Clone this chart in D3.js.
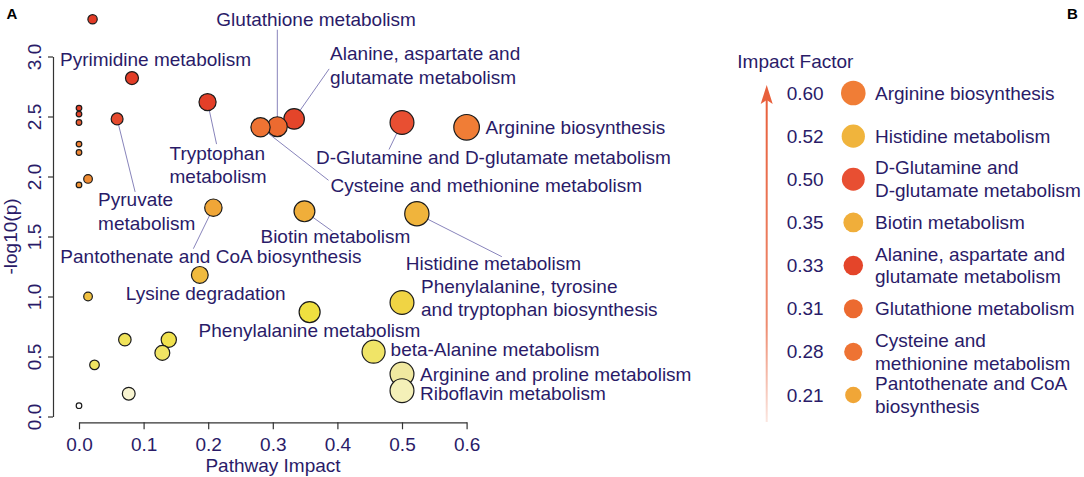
<!DOCTYPE html>
<html>
<head>
<meta charset="utf-8">
<script src="https://cdn.jsdelivr.net/npm/d3@7"></script>
<style>
  body { margin: 0; background: #fff; }
  svg { font-family: "Liberation Sans", Arial, sans-serif; }
  .axis text { fill: #2a1b68; font-size: 19px; }
  .axis path, .axis line { stroke: #333; stroke-width: 1.2; }
</style>
</head>
<body>
<div id="chart"></div>
<script>
// pathway names ('' = not labelled), impact (x) and -log10(p) (y)
var pathways = [
  '', 'Pyrimidine metabolism', 'Tryptophan metabolism', '', '',
  'Alanine, aspartate and glutamate metabolism', 'Pyruvate metabolism',
  'D-Glutamine and D-glutamate metabolism', '', 'Glutathione metabolism',
  'Cysteine and methionine metabolism', 'Arginine biosynthesis', '', '', '', '',
  'Pantothenate and CoA biosynthesis', 'Biotin metabolism', 'Histidine metabolism',
  'Lysine degradation', '', 'Phenylalanine, tyrosine and tryptophan biosynthesis',
  'Phenylalanine metabolism', '', '', 'beta-Alanine metabolism', '', '',
  'Arginine and proline metabolism', 'Riboflavin metabolism', '', ''
];
var impact = [
  0.021, 0.082, 0.199, 0.0, 0.0, 0.333, 0.059, 0.50, 0.0, 0.307, 0.281, 0.60,
  0.0, 0.0, 0.014, 0.0, 0.208, 0.349, 0.523, 0.187, 0.014, 0.50, 0.357,
  0.139, 0.071, 0.456, 0.129, 0.024, 0.50, 0.50, 0.077, 0.0
];
var logp = [
  3.31, 2.82, 2.62, 2.57, 2.52, 2.48, 2.48, 2.45, 2.45, 2.415, 2.41, 2.41,
  2.27, 2.20, 1.98, 1.93, 1.74, 1.71, 1.69, 1.18, 1.00, 0.95, 0.87,
  0.64, 0.64, 0.54, 0.53, 0.43, 0.354, 0.215, 0.19, 0.09
];
var xTicks = [0, 0.1, 0.2, 0.3, 0.4, 0.5, 0.6];
var yTicks = [0, 0.5, 1, 1.5, 2, 2.5, 3];

// panel B entries
var legendLabels = [
  'Arginine biosynthesis',
  'Histidine metabolism',
  'D-Glutamine and\nD-glutamate metabolism',
  'Biotin metabolism',
  'Alanine, aspartate and\nglutamate metabolism',
  'Glutathione metabolism',
  'Cysteine and\nmethionine metabolism',
  'Pantothenate and CoA\nbiosynthesis'
];

// label layout in panel A: text lines, text offset (dx,dy), leader end (lx,ly)
var labelLayout = {
  'Pyrimidine metabolism': { lines: ['Pyrimidine metabolism'], dx: -72, dy: -19 },
  'Tryptophan metabolism': { lines: ['Tryptophan', 'metabolism'], dx: -38, dy: 51, lx: 9, ly: 42 },
  'Alanine, aspartate and glutamate metabolism': { lines: ['Alanine, aspartate and', 'glutamate metabolism'], dx: 36, dy: -65, lx: 35, ly: -50 },
  'Pyruvate metabolism': { lines: ['Pyruvate', 'metabolism'], dx: -19, dy: 81, lx: 18, ly: 73 },
  'D-Glutamine and D-glutamate metabolism': { lines: ['D-Glutamine and D-glutamate metabolism'], dx: -86, dy: 35, lx: -13, ly: 27 },
  'Glutathione metabolism': { lines: ['Glutathione metabolism'], dx: -61, dy: -107, lx: 0, ly: -97 },
  'Cysteine and methionine metabolism': { lines: ['Cysteine and methionine metabolism'], dx: 70, dy: 58, lx: 68, ly: 53 },
  'Arginine biosynthesis': { lines: ['Arginine biosynthesis'], dx: 19, dy: 0 },
  'Pantothenate and CoA biosynthesis': { lines: ['Pantothenate and CoA biosynthesis'], dx: -153, dy: 49, lx: -20, ly: 41 },
  'Biotin metabolism': { lines: ['Biotin metabolism'], dx: -44, dy: 25, lx: 28, ly: 20 },
  'Histidine metabolism': { lines: ['Histidine metabolism'], dx: -11, dy: 50, lx: 85, ly: 43 },
  'Lysine degradation': { lines: ['Lysine degradation'], dx: -74, dy: 19 },
  'Phenylalanine, tyrosine and tryptophan biosynthesis': { lines: ['Phenylalanine, tyrosine', 'and tryptophan biosynthesis'], dx: 19, dy: -16 },
  'Phenylalanine metabolism': { lines: ['Phenylalanine metabolism'], dx: -111, dy: 18 },
  'beta-Alanine metabolism': { lines: ['beta-Alanine metabolism'], dx: 17, dy: -2 },
  'Arginine and proline metabolism': { lines: ['Arginine and proline metabolism'], dx: 18, dy: 0 },
  'Riboflavin metabolism': { lines: ['Riboflavin metabolism'], dx: 18, dy: 3 }
};

// heat colours by rank of p-value
var colorStops = [
  [0, '#e23b26'], [0.16, '#e4452a'], [0.23, '#e85032'], [0.29, '#ec6a30'],
  [0.36, '#f07e36'], [0.48, '#f09032'], [0.52, '#f0a838'], [0.58, '#f0b43c'],
  [0.645, '#f0c040'], [0.677, '#f0d444'], [0.71, '#f0e040'], [0.81, '#f0e468'],
  [0.87, '#f0e460'], [0.903, '#f0e8a0'], [0.935, '#f4f0b8'], [0.968, '#f8f4d0'],
  [1, '#ffffff']
];

var textColor = '#2a1b68';
var lineColor = '#8884bb';

var data = pathways.map(function(name, i) {
  return { name: name, impact: impact[i], logp: logp[i] };
});
var order = d3.range(data.length).sort(function(a, b) { return logp[b] - logp[a]; });
order.forEach(function(idx, rank) { data[idx].rank = rank; });

var color = d3.scaleLinear()
  .domain(colorStops.map(function(s) { return s[0]; }))
  .range(colorStops.map(function(s) { return s[1]; }));

var x = d3.scaleLinear().domain([0, 0.6]).range([79, 466.6]);
var y = d3.scaleLinear().domain([0, 3]).range([416.5, 56.5]);
var r = d3.scaleSqrt().domain([0, 0.6]).range([2.8, 12.8]);

var svg = d3.select('#chart')
  .append('svg')
  .attr('width', 1084)
  .attr('height', 477);

// panel letters
svg.append('text').attr('x', 6.5).attr('y', 19).text('A')
  .style('font-weight', 'bold').style('font-size', '15px');
svg.append('text').attr('x', 1067).attr('y', 19).text('B')
  .style('font-weight', 'bold').style('font-size', '15px');

// axes
var yAxis = svg.append('g')
  .attr('class', 'axis')
  .attr('transform', 'translate(53,0)')
  .call(d3.axisLeft(y).tickValues(yTicks).tickFormat(d3.format('.1f')).tickSize(5).tickSizeOuter(0));
yAxis.selectAll('text')
  .attr('x', 0).attr('dy', 0)
  .attr('text-anchor', 'middle')
  .attr('transform', 'translate(-12,0) rotate(-90)');

svg.append('g')
  .attr('class', 'axis')
  .attr('transform', 'translate(0,422.3)')
  .call(d3.axisBottom(x).tickValues(xTicks).tickFormat(d3.format('.1f')).tickSize(7).tickPadding(8).tickSizeOuter(0));

svg.append('text')
  .attr('x', 273).attr('y', 472)
  .attr('text-anchor', 'middle')
  .style('font-size', '19px').style('fill', textColor)
  .text('Pathway Impact');

svg.append('text')
  .attr('transform', 'translate(17,236.5) rotate(-90)')
  .attr('text-anchor', 'middle')
  .style('font-size', '19px').style('fill', textColor)
  .text('-log10(p)');

// leader lines under the points
var labelled = data.filter(function(d) { return labelLayout[d.name]; });

svg.selectAll('.leader')
  .data(labelled.filter(function(d) { return labelLayout[d.name].lx !== undefined; }))
  .enter()
  .append('line')
  .attr('class', 'leader')
  .attr('x1', function(d) { return x(d.impact); })
  .attr('y1', function(d) { return y(d.logp); })
  .attr('x2', function(d) { return x(d.impact) + labelLayout[d.name].lx; })
  .attr('y2', function(d) { return y(d.logp) + labelLayout[d.name].ly; })
  .style('stroke', lineColor)
  .style('stroke-width', 1);

// points, biggest first so small ones stay visible
svg.selectAll('.pt')
  .data(data.slice().sort(function(a, b) { return b.impact - a.impact; }))
  .enter()
  .append('circle')
  .attr('class', 'pt')
  .attr('cx', function(d) { return x(d.impact); })
  .attr('cy', function(d) { return y(d.logp); })
  .attr('r', function(d) { return r(d.impact); })
  .attr('fill', function(d) { return color(d.rank / (data.length - 1)); })
  .style('stroke', '#1b1b1b')
  .style('stroke-width', 1.2);

// labels
var lab = svg.selectAll('.lab')
  .data(labelled)
  .enter()
  .append('text')
  .attr('class', 'lab')
  .style('font-size', '19px')
  .style('fill', textColor);

lab.each(function(d) {
  var L = labelLayout[d.name];
  var t = d3.select(this);
  L.lines.forEach(function(line, i) {
    t.append('tspan')
      .attr('x', x(d.impact) + L.dx)
      .attr('y', y(d.logp) + L.dy + i * 23.4)
      .attr('dominant-baseline', 'central')
      .text(line);
  });
});

// panel B: impact factor legend
var ly = d3.scalePoint().domain(d3.range(legendLabels.length)).range([93, 395]);

var grad = svg.append('defs').append('linearGradient')
  .attr('id', 'arrowGrad')
  .attr('x1', 0).attr('y1', 0).attr('x2', 0).attr('y2', 1);
grad.append('stop').attr('offset', '0%').attr('stop-color', '#e8603c');
grad.append('stop').attr('offset', '70%').attr('stop-color', '#ee8c70');
grad.append('stop').attr('offset', '100%').attr('stop-color', '#fbe6e0');

svg.append('rect')
  .attr('x', 765.7).attr('y', 100)
  .attr('width', 2).attr('height', 322)
  .attr('fill', 'url(#arrowGrad)');
svg.append('path')
  .attr('d', 'M766.7,85 L772.7,104 L766.7,100 L760.7,104 Z')
  .attr('fill', '#e8603c');

svg.append('text')
  .attr('x', 737.3).attr('y', 61.7)
  .attr('dominant-baseline', 'central')
  .style('font-size', '19px').style('fill', textColor)
  .text('Impact Factor');

var rows = svg.selectAll('.lrow')
  .data(legendLabels)
  .enter()
  .append('g')
  .attr('class', 'lrow')
  .attr('transform', function(d, i) { return 'translate(0,' + ly(i) + ')'; });

function lookup(label) {
  var nm = label.replace('\n', ' ');
  return data.filter(function(d) { return d.name === nm; })[0];
}

rows.append('text')
  .attr('x', 786.7).attr('y', 0)
  .attr('dominant-baseline', 'central')
  .style('font-size', '19px').style('fill', textColor)
  .text(function(d) { return lookup(d).impact.toFixed(2); });

rows.append('circle')
  .attr('cx', 853.3).attr('cy', 0)
  .attr('r', function(d) { return r(lookup(d).impact) - 0.5; })
  .attr('fill', function(d) { var p = lookup(d); return color(p.rank / (data.length - 1)); });

rows.append('text')
  .style('font-size', '19px').style('fill', textColor)
  .each(function(d) {
    var lines = d.split('\n');
    var t = d3.select(this);
    lines.forEach(function(line, i) {
      t.append('tspan')
        .attr('x', 875)
        .attr('y', (i - (lines.length - 1) / 2) * 22.8)
        .attr('dominant-baseline', 'central')
        .text(line);
    });
  });
</script>
</body>
</html>
